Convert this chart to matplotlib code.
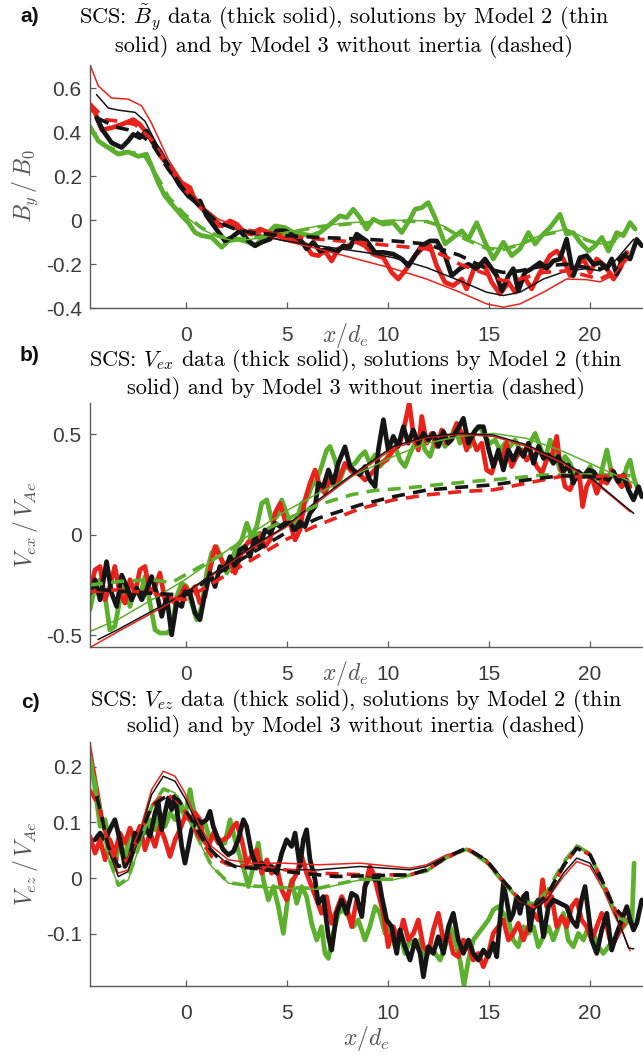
import matplotlib
matplotlib.use("Agg")
import matplotlib.pyplot as plt

plt.rcParams['mathtext.fontset'] = 'cm'
plt.rcParams['axes.unicode_minus'] = False
plt.rcParams['font.family'] = ['Liberation Sans', 'DejaVu Sans']

# colores de las tres especies
c_red = '#e8231c'
c_green = '#5cb02d'
c_black = '#151515'

# ---------------- panel a) B_y / B_0 ----------------
by_green_data = [(-4.75,0.425),(-4.34,0.36),(-3.85,0.33),(-3.35,0.30),(-2.86,0.31),(-2.36,0.29),(-1.95,0.30),(-1.70,0.245),(-1.37,0.17),(-1.04,0.11),(-0.63,0.065),(-0.21,0.02),(0.12,-0.011),(0.45,-0.056),(0.78,-0.07),(1.27,-0.078),(1.77,-0.123),(2.10,-0.094),(2.59,-0.086),(3.09,-0.1),(3.42,-0.116),(3.91,-0.07),(4.41,-0.026),(4.90,-0.033),(5.31,-0.056),(5.73,-0.063),(6.22,-0.07),(6.63,-0.056),(7.13,-0.018),(7.62,0.02),(7.95,0.012),(8.28,0.05),(8.61,0.012),(8.94,-0.04),(9.27,0.005),(9.77,-0.018),(10.26,-0.011),(10.68,-0.056),(11.09,0.005),(11.34,0.05),(11.67,0.057),(11.99,0.08),(12.33,0.012),(12.82,-0.108),(13.23,-0.078),(13.65,-0.048),(13.98,-0.086),(14.39,-0.011),(14.80,-0.1),(15.21,-0.176),(15.71,-0.1),(16.12,-0.161),(16.53,-0.13),(16.95,-0.056),(17.28,-0.108),(17.61,-0.07),(18.02,-0.033),(18.51,0.027),(18.84,-0.063),(19.17,-0.056),(19.50,-0.1),(19.92,-0.14),(20.25,-0.116),(20.58,-0.078),(20.91,-0.14),(21.32,-0.056),(21.65,-0.07),(21.98,-0.011),(22.23,-0.04)]
by_red_data = [(-4.75,0.51),(-4.50,0.49),(-4.17,0.41),(-3.68,0.42),(-3.18,0.435),(-2.61,0.457),(-2.28,0.435),(-1.95,0.397),(-1.53,0.337),(-1.20,0.284),(-0.71,0.232),(-0.21,0.17),(0.20,0.148),(0.36,0.11),(0.69,0.065),(1.11,0.027),(1.44,-0.018),(1.77,-0.026),(2.18,-0.003),(2.51,-0.018),(2.92,-0.056),(3.25,-0.063),(3.66,-0.04),(4.08,-0.056),(4.57,-0.07),(4.98,-0.086),(5.40,-0.094),(5.89,-0.108),(6.22,-0.154),(6.55,-0.161),(6.88,-0.14),(7.21,-0.185),(7.54,-0.13),(8.04,-0.116),(8.37,-0.094),(8.86,-0.116),(9.27,-0.154),(9.77,-0.17),(10.18,-0.237),(10.51,-0.267),(10.92,-0.22),(11.34,-0.16),(11.75,-0.123),(12.08,-0.116),(12.41,-0.207),(12.82,-0.282),(13.23,-0.297),(13.65,-0.267),(13.89,-0.312),(14.31,-0.207),(14.72,-0.193),(15.13,-0.282),(15.54,-0.335),(15.96,-0.282),(16.29,-0.327),(16.70,-0.252),(17.11,-0.312),(17.52,-0.237),(18.02,-0.16),(18.35,-0.14),(18.68,-0.176),(19.01,-0.252),(19.34,-0.207),(19.67,-0.176),(20.00,-0.237),(20.33,-0.176),(20.74,-0.207),(21.16,-0.267),(21.49,-0.22),(21.82,-0.146)]
by_black_data = [(-4.42,0.465),(-4.09,0.405),(-3.68,0.352),(-3.18,0.33),(-2.86,0.36),(-2.61,0.39),(-2.28,0.375),(-1.95,0.405),(-1.62,0.352),(-1.29,0.314),(-0.79,0.232),(-0.30,0.157),(0.12,0.11),(0.53,0.08),(0.69,0.088),(1.02,0.02),(1.44,-0.033),(1.93,-0.094),(2.26,-0.078),(2.67,-0.048),(3.09,-0.094),(3.42,-0.116),(3.75,-0.1),(4.16,-0.086),(4.49,-0.048),(4.90,-0.048),(5.31,-0.07),(5.64,-0.086),(5.97,-0.13),(6.30,-0.1),(6.63,-0.14),(7.05,-0.13),(7.46,-0.146),(7.79,-0.116),(8.12,-0.123),(8.45,-0.063),(8.94,-0.094),(9.36,-0.146),(9.77,-0.146),(10.26,-0.154),(10.68,-0.176),(11.01,-0.207),(11.34,-0.16),(11.67,-0.116),(12.08,-0.094),(12.41,-0.094),(12.82,-0.16),(13.15,-0.252),(13.56,-0.22),(13.98,-0.2),(14.39,-0.22),(14.80,-0.176),(15.13,-0.22),(15.38,-0.252),(15.63,-0.32),(15.96,-0.252),(16.20,-0.22),(16.45,-0.32),(16.78,-0.237),(17.11,-0.22),(17.52,-0.193),(17.85,-0.22),(18.18,-0.185),(18.51,-0.176),(18.84,-0.086),(19.17,-0.252),(19.50,-0.17),(19.83,-0.161),(20.17,-0.2),(20.50,-0.193),(20.83,-0.22),(21.07,-0.176),(21.32,-0.245),(21.65,-0.161),(21.98,-0.176),(22.31,-0.087),(22.56,-0.116)]

by_green_m2 = [(-4.75,0.425),(-4.17,0.34),(-3.35,0.31),(-2.52,0.30),(-2.03,0.285),(-1.37,0.18),(-0.87,0.094),(-0.05,0.02),(0.78,-0.04),(1.60,-0.078),(2.43,-0.094),(3.25,-0.086),(4.90,-0.056),(6.55,-0.026),(8.20,-0.011),(10.26,0.0),(11.91,-0.003),(12.74,-0.026),(13.56,-0.07),(14.88,-0.123),(15.71,-0.13),(16.53,-0.108),(17.69,-0.063),(18.84,-0.04),(19.83,-0.086),(20.50,-0.108),(21.16,-0.1),(21.82,-0.04)]
by_red_m2 = [(-4.75,0.706),(-4.34,0.61),(-3.68,0.555),(-2.86,0.55),(-2.20,0.52),(-1.70,0.44),(-0.87,0.276),(-0.05,0.155),(0.78,0.065),(1.60,0.005),(2.43,-0.025),(3.25,-0.056),(4.90,-0.094),(6.55,-0.13),(8.20,-0.17),(10.26,-0.22),(11.91,-0.267),(13.56,-0.327),(14.88,-0.38),(15.71,-0.395),(16.53,-0.38),(17.69,-0.327),(18.84,-0.267),(19.83,-0.27),(20.50,-0.28),(21.16,-0.25),(21.82,-0.176)]
by_black_m2 = [(-4.42,0.57),(-3.85,0.51),(-3.35,0.50),(-2.52,0.49),(-2.03,0.45),(-1.70,0.39),(-0.87,0.247),(-0.05,0.14),(0.78,0.065),(1.60,-0.01),(2.43,-0.04),(3.25,-0.063),(4.90,-0.094),(6.55,-0.116),(8.86,-0.146),(10.26,-0.17),(11.91,-0.215),(13.56,-0.275),(14.88,-0.327),(15.71,-0.342),(16.53,-0.327),(17.69,-0.267),(18.84,-0.23),(19.83,-0.22),(20.50,-0.23),(21.16,-0.193),(22.15,-0.087)]

by_green_m3 = [(-4.75,0.42),(-4.17,0.345),(-3.35,0.315),(-2.52,0.305),(-2.03,0.29),(-1.37,0.19),(-0.87,0.105),(-0.05,0.025),(0.78,-0.035),(1.60,-0.072),(2.43,-0.088),(3.25,-0.082),(4.90,-0.06),(6.55,-0.03),(8.20,-0.015),(10.26,-0.004),(11.91,-0.006),(12.74,-0.03),(13.56,-0.075),(14.88,-0.128),(15.71,-0.133),(16.53,-0.11),(17.69,-0.066),(18.84,-0.045),(19.83,-0.09),(20.50,-0.11),(21.16,-0.098),(21.82,-0.045)]
by_red_m3 = [(-4.75,0.53),(-4.01,0.457),(-3.35,0.45),(-2.52,0.435),(-1.70,0.366),(-0.87,0.247),(-0.05,0.14),(0.78,0.05),(1.60,-0.01),(2.43,-0.033),(3.25,-0.048),(4.90,-0.07),(6.55,-0.086),(8.20,-0.098),(10.26,-0.116),(11.91,-0.13),(12.74,-0.16),(13.56,-0.2),(14.88,-0.245),(15.71,-0.275),(16.53,-0.267),(17.69,-0.237),(18.84,-0.23),(19.83,-0.252),(20.50,-0.267),(21.16,-0.237),(21.82,-0.176)]
by_black_m3 = [(-4.42,0.465),(-3.35,0.42),(-2.52,0.405),(-1.70,0.35),(-0.87,0.23),(-0.05,0.133),(0.78,0.05),(1.60,-0.01),(2.43,-0.04),(3.25,-0.056),(4.90,-0.07),(6.55,-0.078),(8.86,-0.086),(10.26,-0.094),(11.91,-0.108),(13.56,-0.16),(14.88,-0.22),(15.71,-0.237),(16.53,-0.23),(17.69,-0.207),(18.84,-0.2),(19.83,-0.215),(20.50,-0.22),(21.16,-0.2),(21.82,-0.146)]

# ---------------- panel b) V_ex / V_Ae ----------------
vex_green_data = [(-4.75,-0.372),(-4.50,-0.257),(-4.25,-0.223),(-4.00,-0.306),(-3.77,-0.472),(-3.52,-0.455),(-3.27,-0.323),(-3.02,-0.257),(-2.77,-0.356),(-2.52,-0.257),(-2.28,-0.306),(-2.03,-0.207),(-1.78,-0.339),(-1.53,-0.472),(-1.29,-0.488),(-0.95,-0.488),(-0.71,-0.472),(-0.46,-0.306),(-0.21,-0.24),(0.03,-0.257),(0.28,-0.339),(0.53,-0.422),(0.78,-0.356),(1.02,-0.19),(1.27,-0.091),(1.52,-0.058),(1.77,-0.124),(2.02,-0.19),(2.26,-0.124),(2.51,-0.058),(2.76,-0.025),(3.01,0.058),(3.25,-0.008),(3.50,0.041),(3.75,0.157),(4.00,0.174),(4.24,0.074),(4.49,0.091),(4.74,0.174),(4.98,0.108),(5.23,0.041),(5.48,0.074),(5.73,0.157),(5.97,0.174),(6.22,0.24),(6.47,0.273),(6.71,0.34),(6.96,0.422),(7.13,0.44),(7.38,0.372),(7.62,0.273),(7.87,0.34),(8.12,0.34),(8.37,0.356),(8.61,0.39),(8.86,0.414),(9.10,0.356),(9.36,0.398),(9.60,0.34),(9.85,0.372),(10.10,0.405),(10.35,0.44),(10.59,0.372),(10.84,0.34),(11.09,0.405),(11.34,0.456),(11.59,0.49),(11.83,0.422),(12.08,0.39),(12.33,0.472),(12.58,0.49),(12.82,0.44),(13.07,0.472),(13.32,0.538),(13.56,0.456),(13.81,0.505),(14.06,0.44),(14.31,0.522),(14.55,0.538),(14.80,0.49),(15.05,0.456),(15.30,0.472),(15.54,0.422),(15.79,0.456),(16.04,0.44),(16.29,0.472),(16.53,0.422),(16.78,0.422),(17.03,0.456),(17.28,0.505),(17.52,0.44),(17.77,0.372),(18.02,0.472),(18.27,0.405),(18.51,0.323),(18.76,0.39),(19.01,0.356),(19.26,0.29),(19.50,0.307),(19.75,0.29),(20.00,0.34),(20.25,0.273),(20.50,0.29),(20.83,0.422),(21.07,0.307),(21.32,0.29),(21.57,0.24),(21.82,0.34),(21.98,0.372),(22.15,0.29),(22.31,0.24)]
vex_red_data = [(-4.75,-0.273),(-4.50,-0.174),(-4.25,-0.157),(-4.01,-0.323),(-3.77,-0.257),(-3.52,-0.157),(-3.27,-0.29),(-3.02,-0.339),(-2.77,-0.223),(-2.52,-0.29),(-2.28,-0.174),(-2.03,-0.157),(-1.78,-0.29),(-1.53,-0.257),(-1.29,-0.19),(-1.04,-0.323),(-0.79,-0.306),(-0.54,-0.339),(-0.30,-0.306),(-0.05,-0.257),(0.20,-0.29),(0.45,-0.257),(0.69,-0.339),(0.94,-0.306),(1.19,-0.174),(1.44,-0.058),(1.68,-0.108),(1.93,-0.157),(2.18,-0.124),(2.43,-0.19),(2.67,-0.108),(2.92,-0.058),(3.17,-0.025),(3.42,-0.058),(3.66,0.008),(3.91,-0.058),(4.16,-0.025),(4.41,0.108),(4.66,0.157),(4.90,0.074),(5.15,0.058),(5.40,-0.025),(5.64,0.025),(5.89,0.174),(6.14,0.257),(6.39,0.323),(6.63,0.24),(6.88,0.207),(7.13,0.273),(7.38,0.24),(7.62,0.29),(7.87,0.356),(8.20,0.315),(8.53,0.306),(8.86,0.273),(9.27,0.315),(9.60,0.356),(9.93,0.372),(10.26,0.422),(10.59,0.456),(10.84,0.555),(11.05,0.655),(11.25,0.505),(11.50,0.422),(11.67,0.589),(11.91,0.456),(12.16,0.505),(12.41,0.44),(12.66,0.522),(12.90,0.456),(13.15,0.472),(13.40,0.555),(13.65,0.505),(13.89,0.422),(14.14,0.49),(14.39,0.422),(14.64,0.456),(14.88,0.323),(15.13,0.307),(15.38,0.39),(15.63,0.372),(15.87,0.456),(16.12,0.34),(16.37,0.39),(16.62,0.422),(16.86,0.372),(17.11,0.405),(17.36,0.34),(17.61,0.307),(17.85,0.372),(18.10,0.39),(18.35,0.49),(18.51,0.356),(18.76,0.24),(19.01,0.224),(19.26,0.29),(19.50,0.273),(19.63,0.141),(19.83,0.24),(20.08,0.29),(20.33,0.207),(20.58,0.273),(20.83,0.257),(21.07,0.323),(21.32,0.273),(21.57,0.24),(21.82,0.273),(21.98,0.24)]
vex_black_data = [(-4.75,-0.29),(-4.50,-0.223),(-4.25,-0.323),(-3.93,-0.133),(-3.68,-0.29),(-3.43,-0.356),(-3.18,-0.2),(-2.94,-0.257),(-2.69,-0.323),(-2.44,-0.265),(-2.19,-0.323),(-1.95,-0.273),(-1.70,-0.207),(-1.45,-0.29),(-1.20,-0.405),(-0.95,-0.306),(-0.71,-0.497),(-0.46,-0.339),(-0.21,-0.356),(-0.05,-0.282),(0.20,-0.29),(0.45,-0.389),(0.69,-0.422),(0.94,-0.29),(1.19,-0.19),(1.44,-0.257),(1.68,-0.157),(1.93,-0.174),(2.18,-0.108),(2.43,-0.157),(2.67,-0.074),(2.92,-0.058),(3.17,-0.108),(3.42,-0.008),(3.66,-0.058),(3.91,0.025),(4.16,0.008),(4.41,0.058),(4.66,0.041),(4.90,0.058),(5.15,0.058),(5.40,0.025),(5.64,0.066),(5.89,0.041),(6.14,0.108),(6.39,0.141),(6.55,0.257),(6.80,0.24),(7.05,0.323),(7.29,0.257),(7.54,0.356),(7.87,0.438),(8.12,0.34),(8.37,0.315),(8.61,0.3),(8.86,0.34),(9.10,0.273),(9.36,0.24),(9.52,0.422),(9.77,0.573),(10.01,0.422),(10.26,0.49),(10.50,0.44),(10.76,0.538),(11.00,0.456),(11.25,0.522),(11.50,0.456),(11.75,0.505),(12.00,0.472),(12.25,0.505),(12.50,0.44),(12.74,0.514),(12.99,0.456),(13.23,0.49),(13.48,0.53),(13.73,0.58),(13.98,0.456),(14.22,0.505),(14.47,0.538),(14.72,0.538),(14.97,0.43),(15.21,0.34),(15.46,0.422),(15.71,0.323),(15.96,0.422),(16.20,0.372),(16.45,0.43),(16.70,0.39),(16.95,0.456),(17.20,0.356),(17.45,0.44),(17.69,0.381),(17.94,0.398),(18.18,0.356),(18.43,0.39),(18.68,0.315),(18.92,0.348),(19.17,0.257),(19.42,0.315),(19.67,0.29),(19.92,0.323),(20.17,0.315),(20.41,0.282),(20.66,0.298),(20.91,0.273),(21.16,0.315),(21.40,0.265),(21.65,0.298),(21.90,0.224),(22.15,0.174),(22.40,0.24),(22.56,0.19)]

vex_green_m2 = [(-4.75,-0.48),(-3.35,-0.42),(-1.70,-0.323),(-0.05,-0.223),(1.60,-0.108),(3.25,0.008),(4.90,0.116),(6.55,0.207),(8.20,0.29),(10.26,0.39),(11.91,0.456),(13.56,0.49),(15.21,0.505),(16.86,0.48),(18.51,0.422),(20.17,0.348),(21.82,0.273),(22.15,0.257)]
vex_red_m2 = [(-4.75,-0.56),(-3.35,-0.48),(-1.70,-0.39),(-0.05,-0.295),(1.60,-0.18),(3.25,-0.065),(4.90,0.035),(6.55,0.165),(8.20,0.29),(10.26,0.43),(11.91,0.485),(13.56,0.5),(15.21,0.49),(16.86,0.44),(18.51,0.365),(20.17,0.265),(21.16,0.185),(21.98,0.115)]
vex_black_m2 = [(-4.34,-0.52),(-3.35,-0.47),(-1.70,-0.38),(-0.05,-0.29),(1.60,-0.174),(3.25,-0.058),(4.90,0.041),(6.55,0.174),(8.20,0.298),(10.26,0.44),(11.91,0.49),(13.56,0.505),(15.21,0.497),(16.86,0.448),(18.51,0.373),(20.17,0.273),(21.16,0.19),(22.15,0.108)]

vex_green_m3 = [(-4.75,-0.249),(-3.35,-0.232),(-1.70,-0.223),(-0.71,-0.237),(-0.05,-0.2),(1.60,-0.108),(3.25,-0.008),(4.90,0.074),(6.55,0.15),(8.20,0.2),(9.27,0.22),(10.76,0.232),(12.41,0.249),(14.06,0.265),(16.12,0.282),(17.69,0.298),(19.34,0.298),(21.00,0.298),(22.00,0.294)]
vex_red_m3 = [(-4.75,-0.282),(-3.35,-0.273),(-1.70,-0.29),(-0.05,-0.323),(1.60,-0.223),(3.25,-0.124),(4.90,-0.025),(6.55,0.05),(8.61,0.13),(10.26,0.174),(11.91,0.199),(13.56,0.215),(15.21,0.224),(16.86,0.257),(18.51,0.29),(20.17,0.29),(21.82,0.294)]
vex_black_m3 = [(-4.42,-0.27),(-3.35,-0.28),(-1.70,-0.29),(-0.05,-0.3),(1.60,-0.19),(3.25,-0.091),(4.90,0.008),(6.55,0.083),(8.61,0.149),(10.26,0.19),(11.91,0.223),(13.56,0.237),(15.21,0.249),(16.86,0.273),(18.51,0.294),(20.17,0.29),(21.00,0.273)]

# ---------------- panel c) V_ez / V_Ae ----------------
vez_green_data = [(-4.75,0.225),(-4.50,0.159),(-4.25,0.093),(-4.00,0.105),(-3.77,0.057),(-3.52,0.021),(-3.27,0.069),(-3.02,0.033),(-2.77,0.087),(-2.52,0.069),(-2.28,0.093),(-2.03,0.081),(-1.78,0.105),(-1.53,0.087),(-1.29,0.117),(-1.04,0.093),(-0.79,0.117),(-0.54,0.105),(-0.30,0.129),(-0.05,0.111),(0.20,0.159),(0.28,0.141),(0.45,0.111),(0.69,0.087),(0.94,0.099),(1.19,0.069),(1.44,0.075),(1.68,0.069),(1.93,0.063),(2.18,0.105),(2.43,0.069),(2.67,0.039),(2.92,0.009),(3.09,-0.015),(3.33,0.021),(3.58,0.063),(3.83,-0.003),(4.08,-0.039),(4.33,-0.015),(4.57,-0.051),(4.82,-0.099),(5.06,-0.03),(5.23,-0.003),(5.48,-0.045),(5.73,-0.015),(5.97,-0.033),(6.22,-0.081),(6.47,-0.111),(6.71,-0.087),(6.88,-0.135),(7.05,-0.144),(7.29,-0.099),(7.54,-0.063),(7.79,-0.057),(8.04,-0.069),(8.28,-0.087),(8.53,-0.075),(8.86,-0.111),(9.10,-0.087),(9.36,-0.051),(9.60,-0.063),(9.85,-0.099),(10.10,-0.087),(10.35,-0.123),(10.59,-0.099),(10.84,-0.135),(11.09,-0.111),(11.34,-0.123),(11.59,-0.111),(11.83,-0.147),(12.08,-0.123),(12.33,-0.135),(12.58,-0.147),(12.82,-0.123),(13.07,-0.087),(13.32,-0.111),(13.56,-0.147),(13.76,-0.192),(13.98,-0.147),(14.22,-0.111),(14.47,-0.099),(14.72,-0.087),(14.97,-0.075),(15.21,-0.057),(15.46,-0.051),(15.71,-0.063),(15.96,-0.075),(16.20,-0.111),(16.45,-0.123),(16.70,-0.087),(16.95,-0.099),(17.20,-0.087),(17.44,-0.123),(17.69,-0.105),(17.94,-0.087),(18.18,-0.111),(18.43,-0.087),(18.68,-0.063),(18.92,-0.111),(19.17,-0.123),(19.42,-0.099),(19.67,-0.111),(19.92,-0.087),(20.17,-0.099),(20.41,-0.123),(20.66,-0.135),(20.91,-0.123),(21.16,-0.111),(21.40,-0.099),(21.65,-0.087),(21.90,-0.075),(22.07,-0.081),(22.18,0.027)]
vez_red_data = [(-4.75,0.075),(-4.50,0.045),(-4.25,0.069),(-4.00,0.033),(-3.77,0.069),(-3.52,0.045),(-3.27,0.081),(-3.02,0.063),(-2.77,0.09),(-2.52,0.069),(-2.28,0.093),(-2.03,0.051),(-1.78,0.081),(-1.53,0.057),(-1.29,0.093),(-1.04,0.069),(-0.79,0.039),(-0.54,0.069),(-0.30,0.087),(-0.05,0.111),(0.20,0.105),(0.45,0.117),(0.69,0.105),(0.86,0.069),(1.11,0.057),(1.35,0.081),(1.60,0.063),(1.85,0.069),(2.10,0.075),(2.35,0.093),(2.51,0.099),(2.76,0.069),(3.00,0.027),(3.25,0.039),(3.50,0.051),(3.75,0.009),(4.00,0.033),(4.24,0.009),(4.49,0.021),(4.74,-0.021),(4.98,-0.039),(5.23,-0.009),(5.48,0.009),(5.73,0.039),(5.97,0.009),(6.22,-0.015),(6.47,-0.039),(6.71,-0.063),(6.96,-0.033),(7.21,-0.081),(7.46,-0.057),(7.71,-0.033),(7.95,-0.051),(8.20,-0.087),(8.45,-0.039),(8.70,-0.063),(8.86,-0.015),(9.10,0.021),(9.27,0.009),(9.52,-0.027),(9.77,-0.063),(10.01,-0.123),(10.26,-0.087),(10.51,-0.111),(10.76,-0.075),(11.01,-0.111),(11.26,-0.099),(11.50,-0.075),(11.75,-0.123),(12.00,-0.135),(12.24,-0.093),(12.49,-0.063),(12.74,-0.111),(12.99,-0.099),(13.23,-0.135),(13.48,-0.141),(13.73,-0.111),(13.98,-0.123),(14.22,-0.147),(14.47,-0.135),(14.72,-0.159),(14.97,-0.135),(15.21,-0.099),(15.46,-0.087),(15.71,-0.075),(15.96,-0.111),(16.20,-0.099),(16.45,-0.081),(16.70,-0.111),(16.95,-0.087),(17.20,-0.063),(17.44,-0.075),(17.65,-0.003),(17.85,-0.051),(18.10,-0.033),(18.35,-0.087),(18.60,-0.069),(18.84,-0.087),(19.09,-0.051),(19.34,-0.039),(19.58,-0.075),(19.83,-0.087),(20.08,-0.111),(20.33,-0.087),(20.58,-0.063),(20.83,-0.087),(21.07,-0.123),(21.32,-0.105),(21.57,-0.087),(21.82,-0.075)]
vez_black_data = [(-4.50,0.069),(-4.25,0.081),(-4.00,0.069),(-3.77,0.087),(-3.52,0.105),(-3.27,0.069),(-3.02,0.021),(-2.77,0.039),(-2.52,0.081),(-2.28,0.069),(-2.03,0.093),(-1.78,0.075),(-1.53,0.117),(-1.37,0.135),(-1.20,0.087),(-1.04,0.117),(-0.87,0.144),(-0.71,0.123),(-0.54,0.147),(-0.38,0.105),(-0.21,0.057),(-0.05,0.027),(0.12,0.057),(0.28,0.087),(0.53,0.105),(0.78,0.099),(1.02,0.105),(1.19,0.12),(1.35,0.093),(1.60,0.069),(1.85,0.051),(2.10,0.042),(2.35,0.048),(2.59,0.069),(2.84,0.105),(3.00,0.093),(3.25,0.045),(3.50,0.021),(3.75,0.027),(4.00,0.015),(4.24,0.021),(4.49,0.009),(4.74,0.045),(4.98,0.069),(5.23,0.057),(5.40,0.081),(5.64,0.021),(5.81,0.069),(5.97,0.087),(6.14,0.033),(6.39,-0.003),(6.55,-0.045),(6.80,-0.033),(7.05,-0.105),(7.21,-0.129),(7.46,-0.063),(7.71,-0.039),(7.95,-0.063),(8.20,-0.027),(8.45,-0.033),(8.70,-0.069),(8.86,-0.015),(9.10,0.003),(9.36,-0.003),(9.52,0.003),(9.69,-0.033),(9.93,-0.075),(10.18,-0.087),(10.43,-0.135),(10.59,-0.093),(10.84,-0.123),(11.09,-0.147),(11.34,-0.111),(11.59,-0.135),(11.75,-0.177),(11.99,-0.123),(12.24,-0.135),(12.49,-0.105),(12.74,-0.135),(12.99,-0.087),(13.23,-0.063),(13.48,-0.111),(13.73,-0.135),(13.98,-0.111),(14.22,-0.135),(14.47,-0.147),(14.72,-0.129),(14.97,-0.141),(15.21,-0.117),(15.38,-0.141),(15.54,-0.075),(15.71,-0.009),(15.87,-0.039),(16.04,-0.075),(16.20,-0.063),(16.37,-0.033),(16.53,-0.063),(16.70,-0.033),(16.86,-0.027),(17.03,-0.093),(17.20,-0.051),(17.44,-0.039),(17.69,-0.105),(17.94,-0.051),(18.18,-0.039),(18.51,-0.045),(18.84,-0.051),(19.09,-0.075),(19.34,-0.087),(19.58,-0.039),(19.75,-0.015),(19.92,-0.063),(20.08,-0.111),(20.33,-0.135),(20.58,-0.093),(20.83,-0.063),(21.07,-0.129),(21.32,-0.099),(21.57,-0.075),(21.82,-0.051),(21.98,-0.075),(22.15,-0.093),(22.31,-0.081),(22.56,-0.039)]

vez_green_m2 = [(-4.75,0.225),(-4.34,0.147),(-3.85,0.039),(-3.35,-0.015),(-2.86,-0.003),(-2.36,0.051),(-1.70,0.129),(-1.12,0.162),(-0.54,0.153),(-0.05,0.123),(0.61,0.069),(1.27,0.021),(2.10,-0.009),(3.25,-0.015),(4.90,-0.018),(6.55,-0.02),(8.61,-0.003),(10.26,-0.003),(11.91,0.012),(12.90,0.036),(13.89,0.051),(14.88,0.027),(15.71,-0.009),(16.53,-0.042),(17.20,-0.048),(17.85,-0.027),(18.68,0.027),(19.34,0.06),(20.00,0.045),(20.66,-0.015),(21.32,-0.069),(21.82,-0.081)]
vez_red_m2 = [(-4.75,0.243),(-4.34,0.159),(-3.85,0.057),(-3.35,0.009),(-2.86,0.015),(-2.36,0.075),(-1.70,0.159),(-1.12,0.192),(-0.54,0.183),(-0.05,0.153),(0.61,0.099),(1.27,0.057),(2.10,0.033),(3.25,0.027),(4.90,0.027),(6.55,0.024),(8.61,0.027),(9.44,0.024),(11.09,0.018),(11.91,0.024),(12.90,0.042),(13.89,0.051),(14.88,0.033),(15.71,-0.003),(16.53,-0.039),(17.20,-0.054),(17.85,-0.039),(18.68,0.003),(19.34,0.03),(20.00,0.021),(20.66,-0.021),(21.16,-0.063),(21.65,-0.1),(21.98,-0.13)]
vez_black_m2 = [(-4.34,0.147),(-3.85,0.051),(-3.35,0.003),(-2.86,0.012),(-2.36,0.069),(-1.70,0.15),(-1.12,0.183),(-0.54,0.174),(-0.05,0.144),(0.61,0.093),(1.27,0.051),(2.10,0.024),(3.25,0.018),(4.90,0.015),(6.55,0.015),(8.61,0.021),(11.09,0.015),(11.91,0.021),(12.90,0.039),(13.89,0.052),(14.88,0.033),(15.71,-0.003),(16.53,-0.042),(17.20,-0.057),(17.85,-0.039),(18.68,0.009),(19.34,0.036),(20.00,0.027),(20.66,-0.015),(21.16,-0.057),(21.65,-0.1),(21.90,-0.125),(22.15,-0.127)]

vez_green_m3 = [(-4.75,0.22),(-4.34,0.145),(-3.85,0.04),(-3.35,-0.012),(-2.86,0.0),(-2.36,0.053),(-1.70,0.128),(-1.12,0.16),(-0.54,0.152),(-0.05,0.122),(0.61,0.07),(1.27,0.022),(2.10,-0.008),(3.25,-0.014),(4.90,-0.017),(6.55,-0.018),(8.61,-0.002),(10.26,-0.002),(11.91,0.013),(12.90,0.037),(13.89,0.052),(14.88,0.028),(15.71,-0.008),(16.53,-0.04),(17.20,-0.046),(17.85,-0.025),(18.68,0.028),(19.34,0.058),(20.00,0.044),(20.66,-0.014),(21.32,-0.066),(21.82,-0.078)]
vez_red_m3 = [(-4.75,0.159),(-4.34,0.129),(-3.85,0.063),(-3.35,0.027),(-2.86,0.033),(-2.36,0.075),(-1.70,0.129),(-1.12,0.15),(-0.54,0.144),(-0.05,0.12),(0.61,0.075),(1.27,0.039),(2.10,0.024),(3.25,0.021),(4.90,0.015),(6.55,0.009),(8.86,0.006),(11.09,0.006),(11.91,0.015),(12.90,0.036),(13.89,0.054),(14.88,0.03),(15.71,-0.006),(16.53,-0.039),(17.20,-0.051),(17.85,-0.033),(18.68,0.021),(19.34,0.054),(20.00,0.042),(20.66,-0.009),(21.32,-0.063),(21.82,-0.075)]
vez_black_m3 = [(-4.42,0.147),(-4.17,0.111),(-3.85,0.057),(-3.35,0.021),(-2.86,0.027),(-2.36,0.069),(-1.70,0.129),(-0.87,0.15),(-0.38,0.141),(0.28,0.105),(0.94,0.063),(1.60,0.036),(2.43,0.021),(4.08,0.015),(5.73,0.009),(7.38,0.003),(8.61,0.004),(11.09,0.006),(11.91,0.015),(12.90,0.038),(13.89,0.054),(14.88,0.032),(15.71,-0.005),(16.53,-0.038),(17.20,-0.05),(17.85,-0.032),(18.68,0.022),(19.34,0.054),(20.00,0.042),(20.66,-0.009),(21.16,-0.051),(21.65,-0.069)]

titles = [r'SCS: $\tilde{B}_y$ data (thick solid), solutions by Model 2 (thin',
          r'SCS: $V_{ex}$ data (thick solid), solutions by Model 2 (thin',
          r'SCS: $V_{ez}$ data (thick solid), solutions by Model 2 (thin']
title_line2 = 'solid) and by Model 3 without inertia (dashed)'
ylabels = [r'$B_y\,/\,B_0$', r'$V_{ex}\,/\,V_{Ae}$', r'$V_{ez}\,/\,V_{Ae}$']
panel_tags = ['a)', 'b)', 'c)']
ylims = [(-0.4, 0.705), (-0.556, 0.656), (-0.193, 0.245)]
yticks = [[-0.4, -0.2, 0, 0.2, 0.4, 0.6], [-0.5, 0, 0.5], [-0.1, 0, 0.1, 0.2]]
yticklabels = [['-0.4', '-0.2', '0', '0.2', '0.4', '0.6'], ['-0.5', '0', '0.5'], ['-0.1', '0', '0.1', '0.2']]
xticks = [0, 5, 10, 15, 20]

panels = [
    (by_green_data, by_red_data, by_black_data, by_green_m2, by_red_m2, by_black_m2, by_green_m3, by_red_m3, by_black_m3),
    (vex_green_data, vex_red_data, vex_black_data, vex_green_m2, vex_red_m2, vex_black_m2, vex_green_m3, vex_red_m3, vex_black_m3),
    (vez_green_data, vez_red_data, vez_black_data, vez_green_m2, vez_red_m2, vez_black_m2, vez_green_m3, vez_red_m3, vez_black_m3),
]

W, H = 643, 1055
fig = plt.figure(figsize=(W / 100, H / 100), dpi=100)

# posiciones de los ejes en pixeles (top, bottom)
ax_rows = [(65, 308.3), (403, 646.7), (741.7, 985.7)]
title_y = [(18, 46), (361, 388), (700, 727)]
title_cx = [344, 356, 356]
tag_y = [17, 356, 703]

def xy(curve):
    return [p[0] for p in curve], [p[1] for p in curve]

for i, curves in enumerate(panels):
    top, bot = ax_rows[i]
    ax = fig.add_axes([90 / W, 1 - bot / H, 553 / W, (bot - top) / H])
    cols = [c_green, c_red, c_black]
    for j in range(3):
        x, y = xy(curves[j])
        ax.plot(x, y, color=cols[j], lw=3.4, solid_joinstyle='round', solid_capstyle='round')
    for j in range(3):
        x, y = xy(curves[3 + j])
        ax.plot(x, y, color=cols[j], lw=1.1)
    for j in range(3):
        x, y = xy(curves[6 + j])
        ax.plot(x, y, color=cols[j], lw=2.6, ls=(0, (3.6, 2.3)))

    ax.set_xlim(-4.75, 22.62)
    ax.set_ylim(*ylims[i])
    ax.set_xticks(xticks)
    ax.set_xticklabels([str(t) for t in xticks])
    ax.set_yticks(yticks[i])
    ax.set_yticklabels(yticklabels[i])
    for s in ['top', 'right']:
        ax.spines[s].set_visible(False)
    for s in ['left', 'bottom']:
        ax.spines[s].set_color('#5a5a5a')
        ax.spines[s].set_linewidth(1.0)
    ax.tick_params(direction='in', length=4.5, width=0.9, color='#5a5a5a',
                   labelsize=15, labelcolor='#3a3a3a')
    ax.tick_params(axis='x', pad=13)
    ax.tick_params(axis='y', pad=6)

    ax.set_ylabel(ylabels[i], fontsize=17, color='#555555', labelpad=4)

    if i < 2:
        ax.text(7.9, -0.11, r'$x/d_e$', transform=ax.get_xaxis_transform(),
                ha='center', va='center', fontsize=17, color='#555555')
    else:
        ax.set_xlabel(r'$x/d_e$', fontsize=17, color='#555555', labelpad=1)

    y1, y2 = title_y[i]
    fig.text(title_cx[i] / W, 1 - y1 / H, titles[i], ha='center', va='center',
             fontsize=16, family='cmr10')
    fig.text(title_cx[i] / W, 1 - y2 / H, title_line2, ha='center', va='center',
             fontsize=16, family='cmr10')
    fig.text(30 / W, 1 - tag_y[i] / H, panel_tags[i], ha='center', va='center',
             fontsize=15, fontweight='bold', color='#111111')

fig.savefig('out.png', dpi=100)
